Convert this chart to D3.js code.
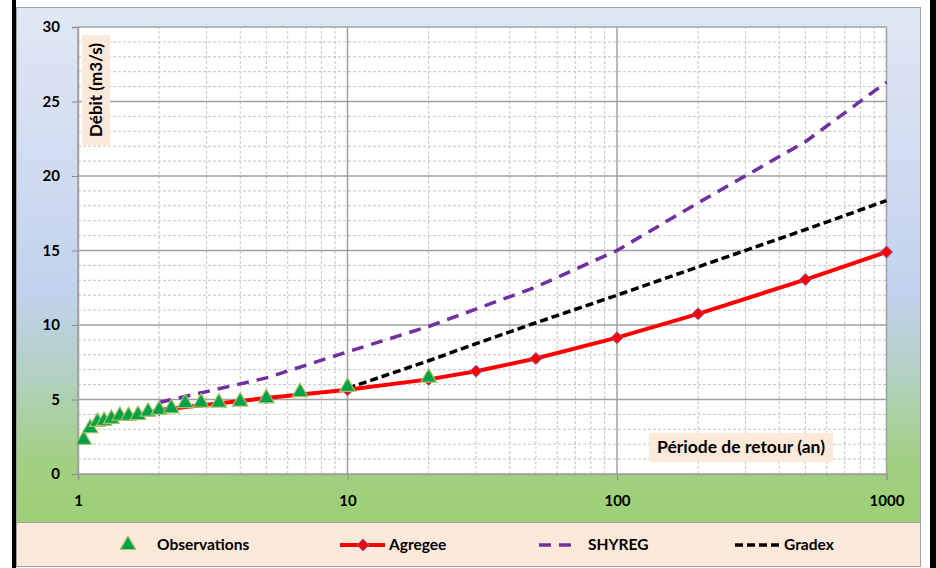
<!DOCTYPE html>
<html>
<head>
<meta charset="utf-8">
<script src="https://cdn.jsdelivr.net/npm/d3@7"></script>
<style>
  body { margin: 0; background: #fff; }
  svg { display: block; font-family: Lato, "Open Sans", sans-serif; }
</style>
</head>
<body>
<svg id="chart" width="936" height="568"></svg>
<script>
// return periods (years) and discharges (m3/s)
const obsT = [1.05, 1.11, 1.18, 1.25, 1.33, 1.43, 1.54, 1.67, 1.82, 2, 2.22, 2.5, 2.86, 3.33, 4, 5, 6.67, 10, 20];
const obsQ = [2.3, 3.07, 3.5, 3.56, 3.7, 3.9, 3.9, 3.96, 4.18, 4.3, 4.41, 4.75, 4.79, 4.79, 4.86, 5.08, 5.49, 5.85, 6.47];

const agrT = [2, 5, 10, 20, 30, 50, 100, 200, 500, 1000];
const agrQ = [4.3, 5.1, 5.65, 6.35, 6.9, 7.75, 9.15, 10.75, 13.05, 14.9];

const shyT = [2, 5, 10, 20, 50, 100, 200, 500, 1000];
const shyQ = [4.8, 6.45, 8.2, 9.9, 12.55, 15.0, 18.2, 22.3, 26.3];

const grdT = [10, 20, 30, 50, 100, 200, 500, 1000];
const grdQ = [5.75, 7.6, 8.75, 10.15, 12.0, 13.9, 16.4, 18.35];

const xMajor = [1, 10, 100, 1000];
const yMajor = [0, 5, 10, 15, 20, 25, 30];

const legendNames = ["Observations", "Agregee", "SHYREG", "Gradex"];

const svg = d3.select("#chart");
const defs = svg.append("defs");

const grad = defs.append("linearGradient")
    .attr("id", "bg").attr("x1", 0).attr("y1", 0).attr("x2", 0).attr("y2", 1);
grad.append("stop").attr("offset", "0%").attr("stop-color", "#e1e8f4");
grad.append("stop").attr("offset", "55%").attr("stop-color", "#c2d2ee");
grad.append("stop").attr("offset", "72%").attr("stop-color", "#b2d0c0");
grad.append("stop").attr("offset", "88%").attr("stop-color", "#a2d082");
grad.append("stop").attr("offset", "100%").attr("stop-color", "#9cd076");

// frame
svg.append("rect").attr("x", 12).attr("y", 0).attr("width", 4).attr("height", 568).attr("fill", "#000");
svg.append("rect").attr("x", 930).attr("y", 0).attr("width", 6).attr("height", 568).attr("fill", "#000");
svg.append("rect").attr("x", 16.5).attr("y", 7.5).attr("width", 904).attr("height", 515)
    .attr("fill", "url(#bg)").attr("stroke", "#a0a0a0");
svg.append("rect").attr("x", 16.5).attr("y", 522.5).attr("width", 904).attr("height", 44)
    .attr("fill", "#fde9d9").attr("stroke", "#a0a0a0");

const x = d3.scaleLog().domain([1, 1000]).range([78, 886.5]);
const y = d3.scaleLinear().domain([0, 30]).range([474, 27]);

const g = svg.append("g");

g.append("rect")
    .attr("x", x(1)).attr("y", y(30))
    .attr("width", x(1000) - x(1)).attr("height", y(0) - y(30))
    .attr("fill", "#fff");

// minor grid
const xMinor = x.ticks().filter(d => !xMajor.includes(d));
const yMinor = d3.range(0, 31).filter(d => d % 5 !== 0);

g.append("g").selectAll("line").data(xMinor).join("line")
    .attr("x1", d => x(d)).attr("x2", d => x(d))
    .attr("y1", y(0)).attr("y2", y(30))
    .attr("stroke", "#c4c4c4").attr("stroke-width", 1).attr("stroke-dasharray", "3,2");
g.append("g").selectAll("line").data(yMinor).join("line")
    .attr("x1", x(1)).attr("x2", x(1000))
    .attr("y1", d => y(d)).attr("y2", d => y(d))
    .attr("stroke", "#c4c4c4").attr("stroke-width", 1).attr("stroke-dasharray", "3,2");

// major grid
g.append("g").selectAll("line").data(xMajor).join("line")
    .attr("x1", d => x(d)).attr("x2", d => x(d))
    .attr("y1", y(0)).attr("y2", y(30))
    .attr("stroke", "#a0a0a0").attr("stroke-width", 1.5);
g.append("g").selectAll("line").data(yMajor).join("line")
    .attr("x1", x(1)).attr("x2", x(1000))
    .attr("y1", d => y(d)).attr("y2", d => y(d))
    .attr("stroke", "#a0a0a0").attr("stroke-width", 1.5);

// axes
const xAxis = g.append("g")
    .attr("transform", `translate(0,${y(0)})`)
    .call(d3.axisBottom(x).tickValues(xMajor).tickFormat(d3.format("d")).tickSize(6).tickPadding(12));
const yAxis = g.append("g")
    .attr("transform", `translate(${x(1)},0)`)
    .call(d3.axisLeft(y).tickValues(yMajor).tickSize(6).tickPadding(12));

[xAxis, yAxis].forEach(a => {
    a.select(".domain").attr("stroke", "#a0a0a0").attr("stroke-width", 1.5);
    a.selectAll(".tick line").attr("stroke", "#8c8c8c");
    a.selectAll(".tick text")
        .attr("font-family", "Lato, sans-serif")
        .attr("font-size", 15).attr("font-weight", "bold").attr("fill", "#000");
});
xAxis.selectAll(".tick text").attr("dy", "0.9em");

// lines
const line = d3.line().x(d => x(d[0])).y(d => y(d[1]));

g.append("path").datum(d3.zip(shyT, shyQ))
    .attr("d", line).attr("fill", "none")
    .attr("stroke", "#7030a0").attr("stroke-width", 3.5).attr("stroke-dasharray", "12,8");
g.append("path").datum(d3.zip(grdT, grdQ))
    .attr("d", line).attr("fill", "none")
    .attr("stroke", "#000").attr("stroke-width", 3.5).attr("stroke-dasharray", "8,4");
g.append("path").datum(d3.zip(agrT, agrQ))
    .attr("d", line).attr("fill", "none")
    .attr("stroke", "#ff0000").attr("stroke-width", 4);

const diamond = "M0,-6L6,0L0,6L-6,0Z";
g.append("g").selectAll("path").data(d3.zip(agrT, agrQ)).join("path")
    .attr("transform", d => `translate(${x(d[0])},${y(d[1])})`)
    .attr("d", diamond).attr("fill", "#ff0000").attr("stroke", "#7a62b0").attr("stroke-width", 1);

const tri = d3.symbol().type(d3.symbolTriangle).size(105);
g.append("g").selectAll("path").data(d3.zip(obsT, obsQ)).join("path")
    .attr("transform", d => `translate(${x(d[0])},${y(d[1])})`)
    .attr("d", tri).attr("fill", "#00a14b").attr("stroke", "#a8c060").attr("stroke-width", 1.2);

// axis titles
const yt = g.append("g").attr("transform", "translate(96,90) rotate(-90)");
yt.append("rect").attr("x", -55).attr("y", -14).attr("width", 110).attr("height", 28).attr("fill", "#fde9d9");
yt.append("text").attr("text-anchor", "middle").attr("dy", "0.35em")
    .attr("font-size", 17).attr("font-weight", "bold").text("Débit (m3/s)");

const xt = g.append("g").attr("transform", "translate(741,447)");
xt.append("rect").attr("x", -92).attr("y", -14).attr("width", 184).attr("height", 29).attr("fill", "#fde9d9");
xt.append("text").attr("text-anchor", "middle").attr("dy", "0.35em")
    .attr("font-size", 17.5).attr("font-weight", "bold").text("Période de retour (an)");

// legend
const ly = 545;
const leg = svg.append("g");
leg.append("path").attr("transform", `translate(128,${ly})`)
    .attr("d", tri).attr("fill", "#00a14b").attr("stroke", "#a8c060").attr("stroke-width", 1.2);
leg.append("line").attr("x1", 340).attr("x2", 385).attr("y1", ly).attr("y2", ly)
    .attr("stroke", "#ff0000").attr("stroke-width", 4);
leg.append("path").attr("transform", `translate(363,${ly})`)
    .attr("d", diamond).attr("fill", "#ff0000").attr("stroke", "#7a62b0");
leg.append("line").attr("x1", 539).attr("x2", 577).attr("y1", ly).attr("y2", ly)
    .attr("stroke", "#7030a0").attr("stroke-width", 3.5).attr("stroke-dasharray", "12,8");
leg.append("line").attr("x1", 735).attr("x2", 781).attr("y1", ly).attr("y2", ly)
    .attr("stroke", "#000").attr("stroke-width", 3.5).attr("stroke-dasharray", "8,4");

const legX = [157, 389, 588, 784];
leg.selectAll("text").data(legendNames).join("text")
    .attr("x", (d, i) => legX[i]).attr("y", ly).attr("dy", "0.35em")
    .attr("font-size", 15.5).attr("font-weight", "bold").text(d => d);
</script>
</body>
</html>
